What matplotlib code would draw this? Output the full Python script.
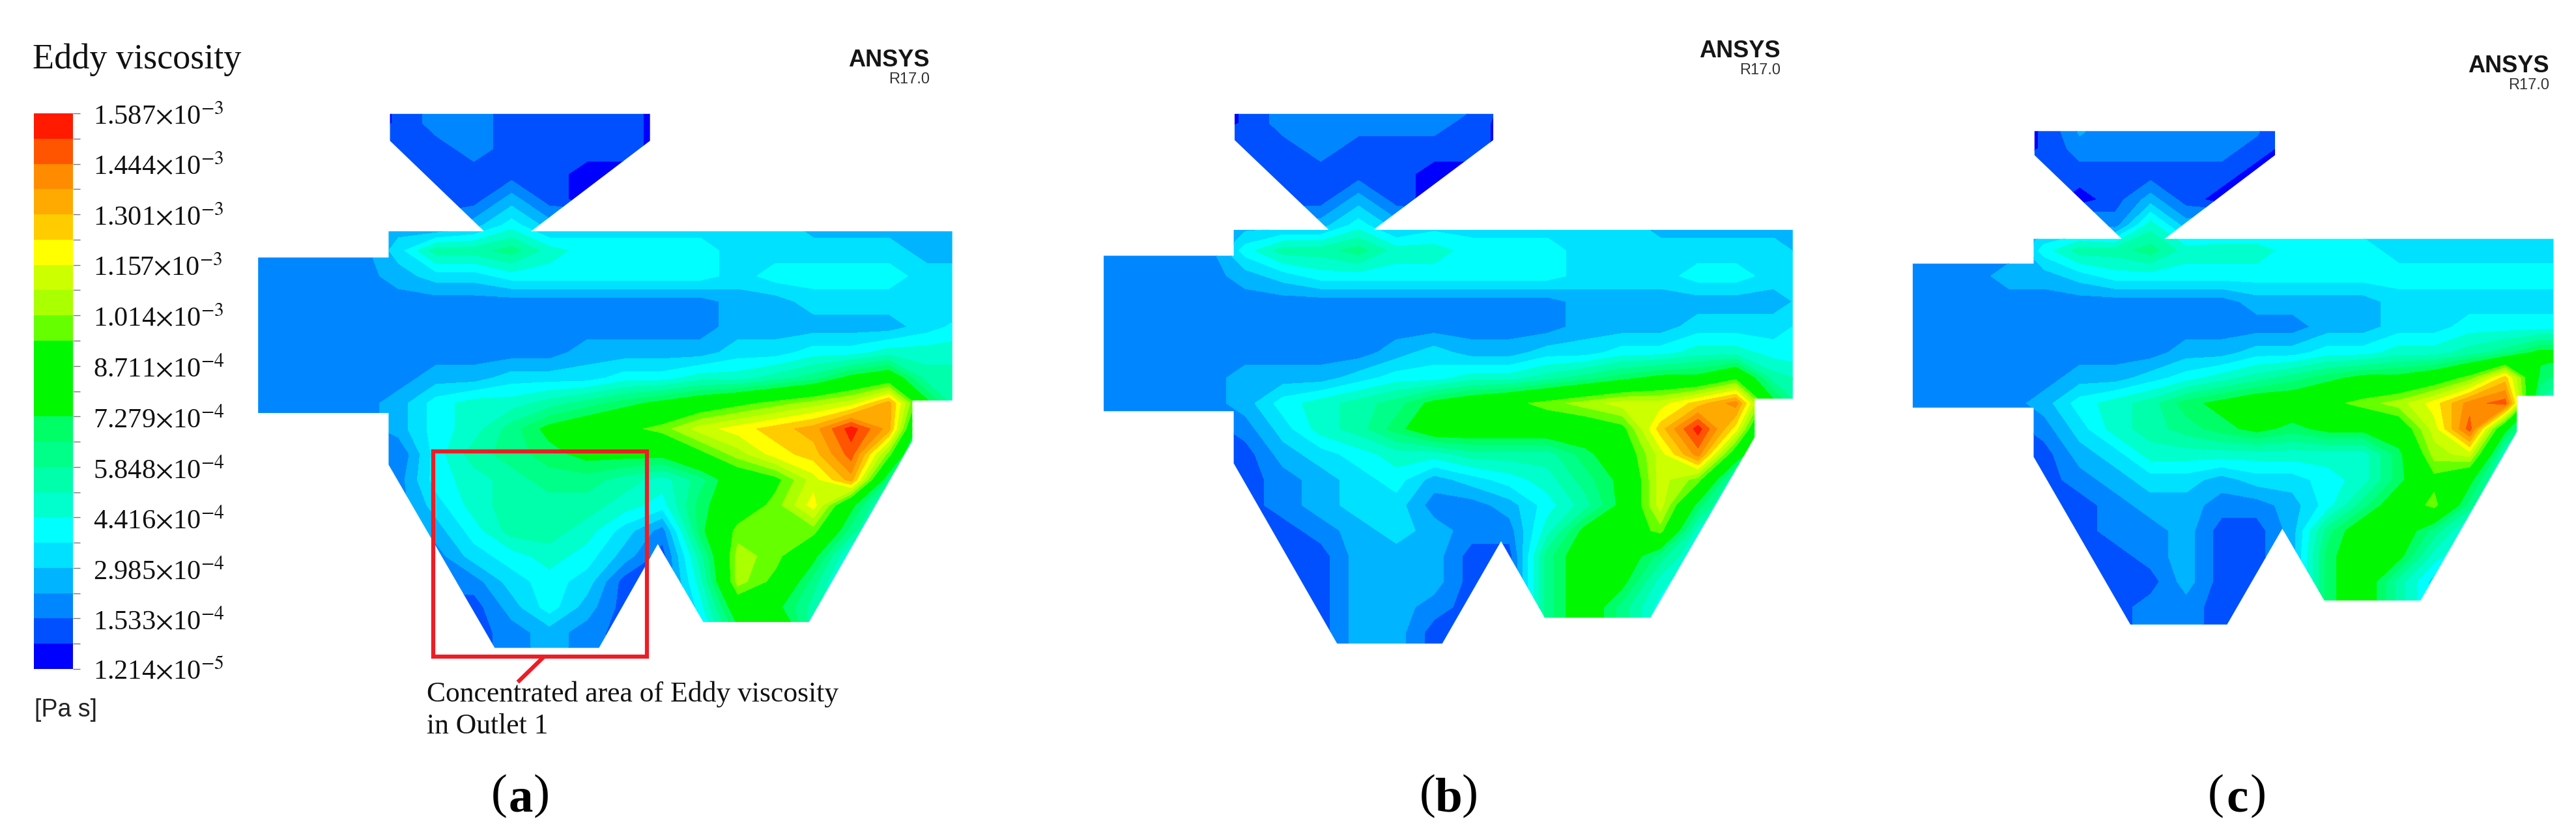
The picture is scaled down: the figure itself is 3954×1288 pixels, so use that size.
import numpy as np
import matplotlib
matplotlib.use("Agg")
import matplotlib.pyplot as plt
from matplotlib.path import Path
from matplotlib.colors import BoundaryNorm, ListedColormap

plt.rcParams["font.family"] = ["Liberation Serif", "DejaVu Serif"]
plt.rcParams["mathtext.fontset"] = "stix"

# legend
v_min = 1.214e-5
v_max = 1.587e-3
n_bands = 22
band_colors = ["#0000ff", "#0050ff", "#0087ff", "#00b4ff", "#00e1ff", "#00ffff",
               "#00ffcc", "#00ffaa", "#00ff88", "#00ff66", "#00f800", "#00f800",
               "#00f800", "#66ff00", "#aaff00", "#ccff00", "#ffff00", "#ffcc00",
               "#ffaa00", "#ff8c00", "#ff5500", "#ff1a00"]
tick_labels = ["1.587", "1.444", "1.301", "1.157", "1.014", "8.711",
               "7.279", "5.848", "4.416", "2.985", "1.533", "1.214"]
tick_powers = ["-3", "-3", "-3", "-3", "-3", "-4", "-4", "-4", "-4", "-4", "-4", "-5"]

field_a = [
    [0,0,0,0,0.6,2,2,1,1,1,1,0,0,0,0,0,0,0,0,0],
    [0,0,0,0,0.6,2,2,1,1,1,1,0,0,0,0,0,0,0,0,0],
    [1,1,1,1,0.6,1,2,1,1,1,1,0,0,0,0,0,0,0,0,0],
    [1,1,1,1,1,1,1,1,1,0,0,0,0,0,0,0,0,0,0,0],
    [1,1,1,1,1,1,1,3,1,0,0,0,0,0,0,0,0,0,0,0],
    [2,2,2,2,3,2,3,5,3,4,4,4,4,4,4,3,3,3,3,3],
    [2,2,2,2,4,7,7,8,6,5,5,5,5,4,4,4,4,4,3,3],
    [2,2,2,2,3,4,4,5,5,5,5,5,5,4,5,5,5,5,4,4],
    [2,2,2,2,2,2,2,2,2,2,2,2,2,3,3,4,4,4,4,4],
    [2,2,2,2,2,2,2,2,2,2,2,2,2,3,3,3,3,3,4,5],
    [2,2,2,2,2,2,2,2,2,3,3,3,3,4,4,5,5,6,6,6],
    [2,2,2,2,2,3,3,4,4,4,5,5,6,6,7,8,10,11,7,7],
    [2,2,2,2,3,5,6,6,7,8,9,10,11,12,13,14,15,18,10,6],
    [2,2,2,2,3,5,6,8,10,11,12,13,15,16,17,18,21,18,6,6],
    [2,2,2,2,1.5,5,7,8,9,10,10,10,12,14,16,17,20,13,4,4],
    [2,2,2,2,2,5,6,7,8,8,7,6,8,11,12,15,18,8,4,4],
    [2,2,2,2,2,4,6,7,7,7,6,5,9,11,13,16,10,5,4,4],
    [2,2,2,2,2,3,5,7,7,6,4,2,9,13,13,13,8,5,4,4],
    [2,2,2,2,2,2,4,5,6,5,3,1,7,14,13,10,5,4,4,4],
    [2,2,2,2,2,2,2,4,5,4,1,1,6,14,12,8,4,4,4,4],
    [2,2,2,2,2,1,1,3,5,3,1,1,5,11,10,7,4,4,4,4],
    [1,1,1,1,1,1,1,2,3,2,1,1,4,9,14,6,4,4,4,4],
    [1,1,1,1,1,1,1,2,3,2,1,1,4,9,14,6,4,4,4,4],
]
field_b = [
    [0,0,0,0,0.6,2,2,2,2,2,2,0,0,0,0,0,0,0,0,0],
    [0,0,0,0,0.6,2,2,2,2,2,1,0,0,0,0,0,0,0,0,0],
    [1,1,1,1,0.6,1,2,1,1,1,1,0,0,0,0,0,0,0,0,0],
    [1,1,1,1,1,1,1,1,1,0,0,0,0,0,0,0,0,0,0,0],
    [1,1,1,1,1,1,1,3,1,0,0,0,0,0,0,0,0,0,0,0],
    [2,2,2,2,3,3,3,5,3,4,4,4,4,4,4,3,3,3,3,3],
    [2,2,2,2,5,7,7,8,6,6,5,5,5,4,4,4,4,4,4,3],
    [2,2,2,2,3,4,5,5,5,5,5,5,5,4,4,4,5,5,4,4],
    [2,2,2,2,2,2,2,2,2,2,2,2,2,3,3,3,3,3,3,4],
    [2,2,2,2,2,2,2,2,2,2,2,2,2,3,3,3,4,4,4,5],
    [2,2,2,2,2,2,2,2,3,4,3,3,4,4,5,5,6,6,5,5],
    [2,2,2,2,3,3,3,4,5,5,6,6,7,8,9,10,10,12,7,6],
    [2,2,2,2,3,5,6,7,8,10,11,12,13,14,15,15,17,19,10,6],
    [1,1,1,1,2,4,6,7,9,11,11,11,11,11,12,17,21,16,6,6],
    [1,1,1,1,1,3,4,5,6,6,7,7,7,9,11,15,19,11,5,5],
    [1,1,1,1,1,2,3,4,5,3,4,5,6,8,10,15,13,6,4,4],
    [1,1,1,1,1,2,3,4,4,2,2,3,5,7,10,15,9,5,4,4],
    [1,1,1,1,1,1,2,3,4,3,2,2,6,10,11,13,6,4,4,4],
    [1,1,1,1,1,1,1,3,3,3,1,1,8,11,11,8,5,4,4,4],
    [1,1,1,1,1,1,1,3,3,3,1,1,8,11,10,6,4,4,4,4],
    [1,1,1,1,1,1,1,3,3,2,1,1,8,11,8,5,4,4,4,4],
    [1,1,1,1,1,1,1,3,3,1,1,1,8,11,8,5,4,4,4,4],
    [1,1,1,1,1,1,1,3,3,1,1,1,8,11,8,5,4,4,4,4],
]
field_c = [
    [0,0,0,0,0.6,3,2,2,2,2,2,0,0,0,0,0,0,0,0,0],
    [0,0,0,0,0.6,3,2,2,2,2,2,0,0,0,0,0,0,0,0,0],
    [0,0,0,0,0.6,2,2,2,2,2,1,0,0,0,0,0,0,0,0,0],
    [1,1,1,1,1,1,1,1,1,1,0,0,0,0,0,0,0,0,0,0],
    [1,1,1,1,1,0,1,3,1,0,0,0,0,0,0,0,0,0,0,0],
    [2,2,2,2,3,3,2,6,3,4,4,4,4,4,4,4,4,3,3,3],
    [2,2,2,2,5,7,7,8,6,6,6,5,5,5,4,4,4,4,4,4],
    [2,2,2,3,3,4,5,5,5,5,5,5,5,5,5,5,5,5,5,5],
    [2,2,2,2,2,2,2,2,2,2,3,3,3,3,4,4,4,4,4,4],
    [2,2,2,2,2,2,2,2,2,2,2,2,3,3,4,4,5,5,5,5],
    [2,2,2,2,2,2,2,2,3,3,4,4,5,5,6,6,7,8,10,10],
    [2,2,2,2,2,3,3,4,5,6,7,8,9,10,10,11,13,17,9,7],
    [2,2,2,2,3,5,6,7,9,10,11,11,12,13,14,16,19,20,7,5],
    [1,1,1,1,2,4,6,7,8,9,10,9,10,10,11,15,20,10,5,5],
    [1,1,1,1,1,3,4,6,6,6,6,6,6,6,9,14,15,6,4,4],
    [1,1,1,1,1,2,3,4,4,3,4,4,5,6,9,12,10,5,4,4],
    [1,1,1,1,1,1,2,3,3,2,2,3,5,8,11,13,8,4,4,4],
    [1,1,1,1,1,1,2,2,3,1,1,3,8,11,11,8,5,4,4,4],
    [1,1,1,1,1,1,1,2,3,1,1,3,9,11,10,6,4,4,4,4],
    [1,1,1,1,1,1,1,1,3,1,1,3,9,11,7,4,4,4,4,4],
    [1,1,1,1,1,1,1,2,2,1,1,3,9,11,7,4,4,4,4,4],
    [1,1,1,1,1,1,1,2,2,1,1,3,9,11,7,4,4,4,4,4],
    [1,1,1,1,1,1,1,2,2,1,1,3,9,11,7,4,4,4,4,4],
]

# separator outlines, in the same local 0-1560 frame as the fields
outline_a = [(310,45),(876,45),(876,120),(617,372),(1534,372),(1534,843),(1447,843),(1447,955),
             (1222,1460),(992,1460),(893,1243),(765,1532),(538,1532),(307,1022),(307,878),
             (23,878),(23,445),(307,445),(307,372),(515,372),(310,120)]
outline_b = [(305,45),(868,45),(868,118),(607,368),(1520,368),(1520,838),(1437,838),(1437,945),
             (1210,1448),(980,1448),(885,1235),(757,1520),(528,1520),(303,1018),(303,873),
             (20,873),(20,440),(303,440),(303,368),(510,368),(305,118)]
outline_c = [(306,93),(863,93),(863,160),(607,393),(1508,393),(1508,830),(1423,830),(1423,930),
             (1200,1400),(977,1400),(880,1200),(752,1467),(528,1467),(304,1000),(304,863),
             (24,863),(24,462),(304,462),(304,393),(508,393),(306,160)]

panels = [
    (field_a, outline_a, 380, 1100, "a", 799, 1427, 92, 122),
    (field_b, outline_b, 1680, 1100, "b", 2224, 2733, 78, 108),
    (field_c, outline_c, 2920, 1034, "c", 3434, 3913, 101, 131),
]

W, H = 3954, 1288
fig = plt.figure(figsize=(W / 100, H / 100), dpi=100)
ax = fig.add_axes([0, 0, 1, 1])
ax.set_xlim(0, W)
ax.set_ylim(H, 0)
ax.axis("off")

levels = np.linspace(v_min, v_max, n_bands + 1)
step = levels[1] - levels[0]

for field, outline, x0, crop_w, letter, letter_x, ansys_r, ansys_y, rel_y in panels:
    bands = np.array(field, dtype=float)
    visc = v_min + (bands + 0.5) * step
    xs = x0 + np.linspace(0, 1560, bands.shape[1]) * crop_w / 1560
    ys = 150 + np.linspace(0, 1560, bands.shape[0]) * 860 / 1560
    cs = ax.contourf(xs, ys, visc, levels=levels, colors=band_colors)
    pts = np.array(outline, dtype=float)
    pts[:, 0] = x0 + pts[:, 0] * crop_w / 1560
    pts[:, 1] = 150 + pts[:, 1] * 860 / 1560
    cs.set_clip_path(Path(np.vstack([pts, pts[:1]]), closed=True), ax.transData)

    ax.text(ansys_r, ansys_y, "ANSYS", family="Liberation Sans", fontsize=26, fontweight="bold",
            color="#151515", ha="right", va="center")
    ax.text(ansys_r, rel_y, "R17.0", family="Liberation Sans", fontsize=17, color="#333333",
            ha="right", va="center")
    ax.text(letter_x - 20, 1222, "(", fontsize=54, ha="right", va="center")
    ax.text(letter_x, 1228, letter, fontsize=54, fontweight="bold", ha="center", va="center")
    ax.text(letter_x + 20, 1222, ")", fontsize=54, ha="left", va="center")

# red highlight on panel a
ax.plot([665, 993, 993, 665, 665], [693, 693, 1008, 1008, 693], color="#ee1c25", lw=4.5, solid_joinstyle="miter")
ax.plot([833, 797], [1010, 1045], color="#ee1c25", lw=4.5)
ax.text(655, 1077, "Concentrated area of Eddy viscosity", fontsize=31.4, va="baseline", color="#111111")
ax.text(655, 1126, "in Outlet 1", fontsize=31.4, va="baseline", color="#111111")

ax.text(50, 105, "Eddy viscosity", fontsize=39, va="baseline", color="#111111")
ax.text(53, 1100, "[Pa s]", family="Liberation Sans", fontsize=27, va="baseline", color="#222222")

# colour scale as its own axis
cax = fig.add_axes([52 / W, (H - 1027) / H, 60 / W, 853 / H])
cax.pcolormesh([0, 1], levels, np.arange(n_bands).reshape(-1, 1),
               cmap=ListedColormap(band_colors), norm=BoundaryNorm(np.arange(n_bands + 1) - 0.5, n_bands))
cax.set_xticks([])
cax.set_ylim(v_min, v_max)
cax.yaxis.tick_right()
cax.set_yticks(levels)
labels = []
for i in range(n_bands + 1):
    if i % 2 == 0:
        k = (n_bands - i) // 2
        labels.append(tick_labels[k] + r"$\times$10$^{" + tick_powers[k] + "}$")
    else:
        labels.append("")
cax.set_yticklabels(labels, fontsize=30.5, color="#111111")
cax.tick_params(axis="y", length=8, width=1, color="#777777", pad=14)
for s in cax.spines.values():
    s.set_visible(False)

fig.savefig("out.png", dpi=100)
